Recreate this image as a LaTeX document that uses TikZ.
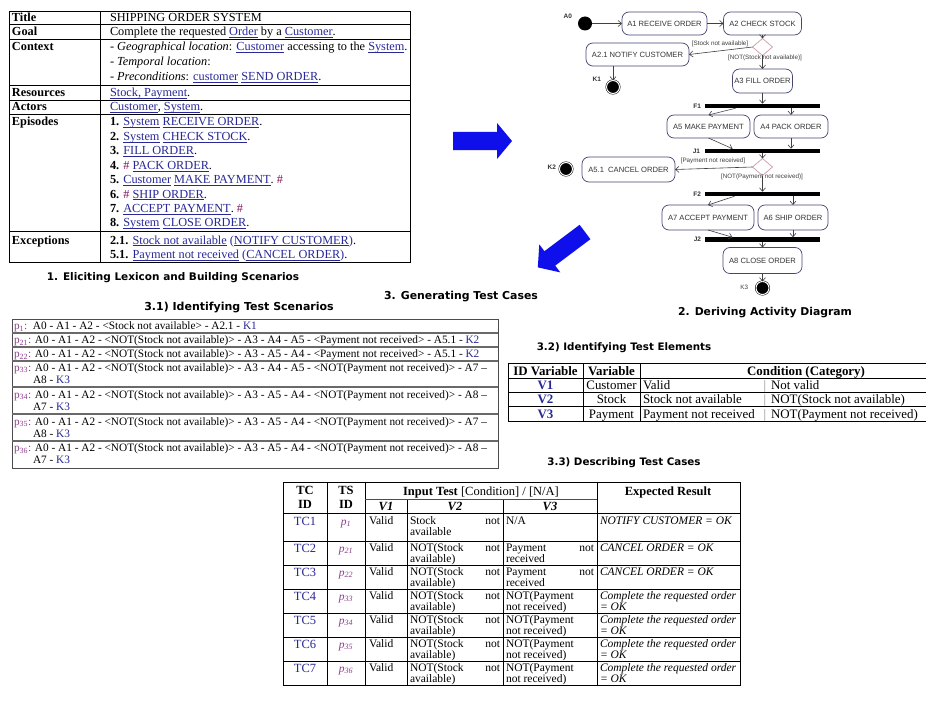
\documentclass[tikz,border=0pt]{standalone}
\usepackage{fontspec}
\setmainfont{Liberation Serif}
\newfontfamily\hdfont{DejaVu Sans}
\newfontfamily\adfont{Liberation Sans}
\usetikzlibrary{arrows.meta,shapes.geometric}
\definecolor{lnk}{RGB}{40,40,150}
\definecolor{hashc}{RGB}{130,20,90}
\definecolor{pcol}{RGB}{140,60,140}
\definecolor{boxc}{RGB}{70,70,115}
\definecolor{bigblue}{RGB}{15,15,235}
\definecolor{sepc}{RGB}{105,105,105}
\definecolor{diac}{RGB}{205,155,170}
\definecolor{tcblue}{RGB}{40,40,150}
\newsavebox\lkbox
\newcommand{\lk}[1]{\sbox\lkbox{#1}{\color{lnk}\rlap{\rule[-1.8pt]{\wd\lkbox}{0.5pt}}#1}}
\newcommand{\hs}{\textcolor{hashc}{\#}}
\newcommand{\pp}[1]{\textcolor{pcol}{p\textsubscript{#1}:}}
\newcommand{\kk}[1]{\textcolor{lnk}{#1}}
\newcommand{\pit}[1]{\textcolor{pcol}{\textit{p}\textsubscript{\textit{#1}}}}
\begin{document}
\begin{tikzpicture}[x=1pt,y=-1pt,
  every node/.style={inner sep=0pt,outer sep=0pt},
  tl/.style={anchor=base west,font=\fontsize{12.3}{14}\selectfont},
  tlb/.style={anchor=base west,font=\fontsize{12.3}{14}\selectfont\bfseries},
  hd/.style={font=\hdfont\bfseries\fontsize{#1}{12}\selectfont},
  hd/.default=10.4,
  act/.style={draw=boxc,line width=0.7pt,rounded corners=7pt,fill=white,
    font=\adfont\fontsize{7.6}{9}\selectfont,text=black!80,minimum height=23pt},
  bar/.style={fill=black,minimum height=4.5pt,minimum width=115pt},
  dec/.style={diamond,draw=diac,line width=0.7pt,fill=white,minimum width=20pt,minimum height=17pt},
  startn/.style={circle,fill=black,minimum size=14pt},
  fin/.style={circle,fill=black,draw=black,double=white,double distance=1pt,line width=0.5pt,minimum size=13pt},
  lbl/.style={font=\adfont\bfseries\fontsize{6.5}{8}\selectfont,text=black!80},
  grd/.style={font=\adfont\fontsize{6.3}{8}\selectfont,text=black!75},
  flow/.style={draw=black!75,line width=0.6pt,-{Straight Barb[length=3.5pt,width=6pt]}},
  st/.style={anchor=base west,font=\fontsize{11.3}{13}\selectfont},
  et/.style={font=\fontsize{12.9}{14}\selectfont},
  etb/.style={font=\fontsize{12.9}{14}\selectfont\bfseries},
  hb/.style={font=\fontsize{12.5}{14}\selectfont\bfseries},
  ct/.style={font=\fontsize{11.5}{13}\selectfont},
  tcl/.style={anchor=base,text=tcblue,font=\fontsize{12.5}{14}\selectfont},
  grid/.style={line width=0.6pt}
]
\useasboundingbox (0,0) rectangle (926,706);
\fill[white] (0,0) rectangle (926,706);

% ---------- 1. Lexicon table ----------
\draw[line width=0.9pt] (9,11) rectangle (410,262);
\draw[grid] (100,11) -- (100,262);
\foreach \yy in {24,39,85,100,114,231} \draw[grid] (9,\yy) -- (410,\yy);
\node[tlb] (kTitle) at (12,21.5) {Title};
\node[tlb] (kGoal) at (12,35.5) {Goal};
\node[tlb] (kCtx) at (12,51) {Context};
\node[tlb] (kRes) at (12,96.5) {Resources};
\node[tlb] (kAct) at (12,111) {Actors};
\node[tlb] (kEpi) at (12,126) {Episodes};
\node[tlb] (kExc) at (12,244) {Exceptions};
\node[tl] (vTitle) at (110,21.5) {SHIPPING ORDER SYSTEM};
\node[tl] (vGoal) at (110,35.5) {Complete the requested \lk{Order} by a \lk{Customer}.};
\node[tl] (vCtx1) at (110,51) {- \textit{Geographical location}: \lk{Customer} accessing to the \lk{System}.};
\node[tl] (vCtx2) at (110,66) {- \textit{Temporal location}:};
\node[tl] (vCtx3) at (110,81) {- \textit{Preconditions}: \lk{customer} \lk{SEND ORDER}.};
\node[tl] (vRes) at (110,96.5) {\lk{Stock, Payment}.};
\node[tl] (vAct) at (110,111) {\lk{Customer}, \lk{System}.};
\node[tl] (e1) at (110,126) {\textbf{1.} \lk{System} \lk{RECEIVE ORDER}.};
\node[tl] (e2) at (110,140.4) {\textbf{2.} \lk{System} \lk{CHECK STOCK}.};
\node[tl] (e3) at (110,154.8) {\textbf{3.} \lk{FILL ORDER}.};
\node[tl] (e4) at (110,169.2) {\textbf{4.} \hs{} \lk{PACK ORDER}.};
\node[tl] (e5) at (110,183.6) {\textbf{5.} \lk{Customer} \lk{MAKE PAYMENT}. \hs};
\node[tl] (e6) at (110,198) {\textbf{6.} \hs{} \lk{SHIP ORDER}.};
\node[tl] (e7) at (110,212.4) {\textbf{7.} \lk{ACCEPT PAYMENT}. \hs};
\node[tl] (e8) at (110,226.8) {\textbf{8.} \lk{System} \lk{CLOSE ORDER}.};
\node[tl] (x1) at (110,244) {\textbf{2.1.} \lk{Stock not available} \kk{(}\lk{NOTIFY CUSTOMER}\kk{)}.};
\node[tl] (x2) at (110,258.5) {\textbf{5.1.} \lk{Payment not received} \kk{(}\lk{CANCEL ORDER}\kk{)}.};
\node[hd=10.5] (h1) at (173,278) {1. Eliciting Lexicon and Building Scenarios};

% ---------- blue arrows ----------
\fill[bigblue] (453,132) -- (497,132) -- (497,123) -- (512,141) -- (497,159) -- (497,150) -- (453,150) -- cycle;
\fill[bigblue] (590.4,239.2) -- (555.2,265.6) -- (560.3,272.4) -- (537.8,267.4) -- (539.3,244.4) -- (544.4,251.2) -- (579.6,224.8) -- cycle;

% ---------- 2. Activity diagram ----------
\node[startn] (A0) at (585,23.5) {};
\node[lbl,anchor=east] (lA0) at (572,16) {A0};
\node[act,minimum width=85pt] (A1) at (664.5,23.5) {A1 RECEIVE ORDER};
\node[act,minimum width=78pt] (A2) at (762.5,23.5) {A2 CHECK STOCK};
\node[dec] (D1) at (762.5,47) {};
\node[act,minimum width=103pt] (A21) at (637.5,54.5) {A2.1 NOTIFY CUSTOMER};
\node[grd] (g1) at (720,44) {[Stock not available]};
\node[grd] (g2) at (765,57.5) {[NOT(Stock not available)]};
\node[act,minimum width=60pt,minimum height=24pt] (A3) at (762.5,81) {A3 FILL ORDER};
\node[fin] (K1) at (613,87) {};
\node[lbl,anchor=east] (lK1) at (601,79) {K1};
\node[bar] (F1) at (762.5,106) {};
\node[lbl,anchor=east] (lF1) at (701,106) {F1};
\node[act,minimum width=83pt] (A5) at (708.5,126.5) {A5 MAKE PAYMENT};
\node[act,minimum width=74pt] (A4) at (791,126.5) {A4 PACK ORDER};
\node[bar] (J1) at (762.5,151) {};
\node[lbl,anchor=east] (lJ1) at (700,151) {J1};
\node[dec] (D2) at (762.5,167) {};
\node[grd] (g3) at (713,161) {[Payment not received]};
\node[grd] (g4) at (762,177) {[NOT(Payment not received)]};
\node[act,minimum width=93pt,minimum height=25pt] (A51) at (628.5,169.5) {A5.1 \ CANCEL ORDER};
\node[fin] (K2) at (566,169) {};
\node[lbl,anchor=east] (lK2) at (556,167) {K2};
\node[bar] (F2) at (762.5,194) {};
\node[lbl,anchor=east] (lF2) at (701,194) {F2};
\node[act,minimum width=92pt,minimum height=25pt] (A7) at (708,217.5) {A7 ACCEPT PAYMENT};
\node[act,minimum width=70pt,minimum height=25pt] (A6) at (793,217.5) {A6 SHIP ORDER};
\node[bar] (J2) at (762.5,239.5) {};
\node[lbl,anchor=east] (lJ2) at (701,239.5) {J2};
\node[act,minimum width=79pt,minimum height=26pt] (A8) at (762.5,260.5) {A8 CLOSE ORDER};
\node[fin] (K3) at (762.5,288) {};
\node[grd,anchor=east] (lK3) at (748,287) {K3};

\draw[flow] (A0) -- (A1);
\draw[flow] (A1) -- (A2);
\draw[flow] (A2) -- (D1);
\draw[flow] (D1.west) -- (A21.east);
\draw[flow] (D1) -- (A3);
\draw[flow] (A21.south -| K1) -- (K1);
\draw[flow] (A3) -- (F1);
\draw[flow] ([xshift=-27pt]F1.south) -- (A5.north);
\draw[flow] (F1.south -| A4) -- (A4.north);
\draw[flow] (A5.south) -- ([xshift=-30pt]J1.north);
\draw[flow] (A4.south) -- (A4.south |- J1.north);
\draw[flow] (J1) -- (D2);
\draw[flow] (D2.west) -- (A51.east);
\draw[flow] (D2) -- (F2);
\draw[flow] ([xshift=-28pt]F2.south) -- (A7.north);
\draw[flow] (F2.south -| A6) -- (A6.north);
\draw[flow] (A7.south) -- ([xshift=-30pt]J2.north);
\draw[flow] (A6.south) -- (A6.south |- J2.north);
\draw[flow] (J2) -- (A8);
\draw[flow] (A8) -- (K3);
\node[hd=10.8] (h2) at (765,313) {2. Deriving Activity Diagram};

% ---------- 3. headings ----------
\node[hd=10.9] (h3) at (461,297) {3. Generating Test Cases};
\node[hd=11] (h31) at (239,308) {3.1) Identifying Test Scenarios};
\node[hd=10.3] (h32) at (624,348) {3.2) Identifying Test Elements};
\node[hd=10.3] (h33) at (624,463) {3.3) Describing Test Cases};

% ---------- 3.1 table ----------
\draw[line width=0.8pt,black!70] (12,319) rectangle (498,468);
\foreach \yy in {333,347,361,387,414,441} \draw[line width=2pt,sepc] (12,\yy) -- (498,\yy);
\node[st] (s1) at (14,329.5) {\pp{1}\ \ A0 - A1 - A2 - <Stock not available> - A2.1 - \kk{K1}};
\node[st] (s21) at (14,343.5) {\pp{21} A0 - A1 - A2 - <NOT(Stock not available)> - A3 - A4 - A5 - <Payment not received> - A5.1 - \kk{K2}};
\node[st] (s22) at (14,357.5) {\pp{22} A0 - A1 - A2 - <NOT(Stock not available)> - A3 - A5 - A4 - <Payment not received> - A5.1 - \kk{K2}};
\node[st] (s33) at (14,371) {\pp{33} A0 - A1 - A2 - <NOT(Stock not available)> - A3 - A4 - A5 - <NOT(Payment not received)> - A7 –};
\node[st] (s33b) at (33,383) {A8 - \kk{K3}};
\node[st] (s34) at (14,398) {\pp{34} A0 - A1 - A2 - <NOT(Stock not available)> - A3 - A5 - A4 - <NOT(Payment not received)> - A8 –};
\node[st] (s34b) at (33,410) {A7 - \kk{K3}};
\node[st] (s35) at (14,425) {\pp{35} A0 - A1 - A2 - <NOT(Stock not available)> - A3 - A5 - A4 - <NOT(Payment not received)> - A7 –};
\node[st] (s35b) at (33,437) {A8 - \kk{K3}};
\node[st] (s36) at (14,451.5) {\pp{36} A0 - A1 - A2 - <NOT(Stock not available)> - A3 - A5 - A4 - <NOT(Payment not received)> - A8 –};
\node[st] (s36b) at (33,463.5) {A7 - \kk{K3}};

% ---------- 3.2 table ----------
\draw[line width=0.7pt] (508,363) rectangle (930,421);
\foreach \xx in {583,640} \draw[grid] (\xx,363) -- (\xx,421);
\foreach \yy in {378,392,406} \draw[grid] (508,\yy) -- (930,\yy);
\node[etb,anchor=base] (c1) at (545.5,375) {ID Variable};
\node[etb,anchor=base] (c2) at (611.5,375) {Variable};
\node[etb,anchor=base] (c3) at (806,375) {Condition (Category)};
\node[etb,anchor=base,text=tcblue] (v1) at (545.5,389.5) {V1};
\node[etb,anchor=base,text=tcblue] (v2) at (545.5,403.5) {V2};
\node[etb,anchor=base,text=tcblue] (v3) at (545.5,418) {V3};
\node[et,anchor=base] (w1) at (611.5,389.5) {Customer};
\node[et,anchor=base] (w2) at (611.5,403.5) {Stock};
\node[et,anchor=base] (w3) at (611.5,418) {Payment};
\node[et,anchor=base west] (q1) at (643,389.5) {Valid};
\node[et,anchor=base west] (q2) at (643,403.5) {Stock not available};
\node[et,anchor=base west] (q3) at (643,418) {Payment not received};
\node[et,anchor=base,text=black!45] (bar1) at (765,389.5) {|};
\node[et,anchor=base,text=black!45] (bar2) at (765,403.5) {|};
\node[et,anchor=base,text=black!45] (bar3) at (765,418) {|};
\node[et,anchor=base west] (r1) at (771,389.5) {Not valid};
\node[et,anchor=base west] (r2) at (771,403.5) {NOT(Stock not available)};
\node[et,anchor=base west] (r3) at (771,418) {NOT(Payment not received)};

% ---------- 3.3 table ----------
\draw[line width=0.7pt] (283,482) rectangle (740,685);
\foreach \xx in {327,365,597} \draw[grid] (\xx,482) -- (\xx,685);
\foreach \xx in {407,503} \draw[grid] (\xx,499) -- (\xx,685);
\draw[line width=1pt,black!70] (365,499) -- (597,499);
\foreach \yy in {513,541,565,589,613,637,661} \draw[grid] (283,\yy) -- (740,\yy);
\node[hb,anchor=base] (hTC) at (305,494) {TC};
\node[hb,anchor=base] (hTCb) at (305,508) {ID};
\node[hb,anchor=base] (hTS) at (346,494) {TS};
\node[hb,anchor=base] (hTSb) at (346,508) {ID};
\node[font=\fontsize{12.5}{14}\selectfont,anchor=base] (hIn) at (481,495) {\textbf{Input Test} [Condition] / [N/A]};
\node[hb,anchor=base] (hEx) at (668,495) {Expected Result};
\node[hb,anchor=base] (hV1) at (386,510) {\textit{V1}};
\node[hb,anchor=base] (hV2) at (455,510) {\textit{V2}};
\node[hb,anchor=base] (hV3) at (550,510) {\textit{V3}};
% row 1
\node[tcl] (tc1) at (305,525) {TC1};
\node[ct,anchor=base] (ts1) at (346,525) {\pit{1}};
\node[ct,anchor=base west] (va1) at (369,524) {Valid};
\node[ct,anchor=base west] (vb1) at (410,524) {Stock};
\node[ct,anchor=base east] (vn1) at (500,524) {not};
\node[ct,anchor=base west] (vbb1) at (410,535) {available};
\node[ct,anchor=base west] (vc1) at (506,524) {N/A};
\node[ct,anchor=base west] (ex1) at (600,524) {\textit{NOTIFY CUSTOMER = OK}};
% rows 2-7
\foreach \i/\T/\p in {2/541/21,3/565/22,4/589/33,5/613/34,6/637/35,7/661/36} {
  \node[tcl] (tc\i) at (305,\T+11) {TC\i};
  \node[ct,anchor=base] (ts\i) at (346,\T+11) {\pit{\p}};
  \node[ct,anchor=base west] (va\i) at (369,\T+10.5) {Valid};
  \node[ct,anchor=base west] (vb\i) at (410,\T+10.5) {NOT(Stock};
  \node[ct,anchor=base east] (vn\i) at (500,\T+10.5) {not};
  \node[ct,anchor=base west] (vbb\i) at (410,\T+21) {available)};
}
\foreach \i/\T in {2/541,3/565} {
  \node[ct,anchor=base west] (vc\i) at (506,\T+10.5) {Payment};
  \node[ct,anchor=base east] (vcn\i) at (594,\T+10.5) {not};
  \node[ct,anchor=base west] (vcb\i) at (506,\T+21) {received};
  \node[ct,anchor=base west] (ex\i) at (600,\T+10.5) {\textit{CANCEL ORDER = OK}};
}
\foreach \i/\T in {4/589,5/613,6/637,7/661} {
  \node[ct,anchor=base west] (vc\i) at (506,\T+10.5) {NOT(Payment};
  \node[ct,anchor=base west] (vcb\i) at (506,\T+21) {not received)};
  \node[ct,anchor=base west] (ex\i) at (600,\T+10.5) {\textit{Complete the requested order}};
  \node[ct,anchor=base west] (exb\i) at (600,\T+21) {\textit{= OK}};
}
\end{tikzpicture}
\end{document}
